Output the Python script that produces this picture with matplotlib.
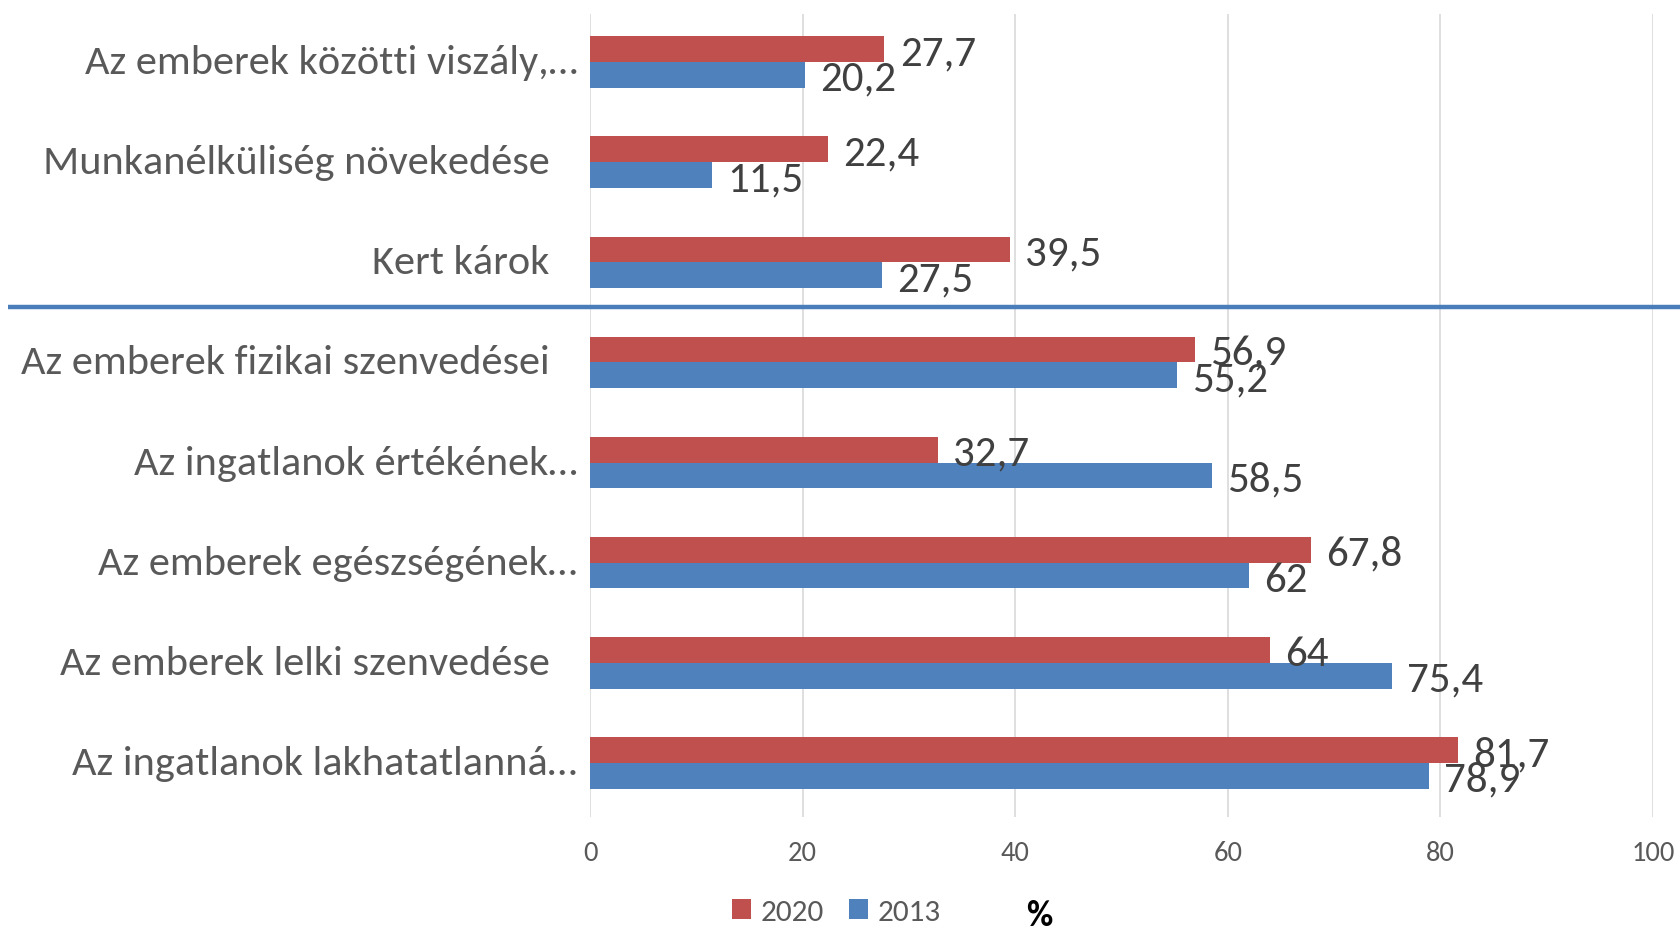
import numpy as np
import matplotlib
matplotlib.use("Agg")
import matplotlib.pyplot as plt
from matplotlib import font_manager
from matplotlib.lines import Line2D
from matplotlib.patches import Patch
from matplotlib.transforms import blended_transform_factory

# ---- data ----
categories = [
    "Az emberek közötti viszály,…",
    "Munkanélküliség növekedése",
    "Kert károk",
    "Az emberek fizikai szenvedései",
    "Az ingatlanok értékének…",
    "Az emberek egészségének…",
    "Az emberek lelki szenvedése",
    "Az ingatlanok lakhatatlanná…",
]
values_2020 = [27.7, 22.4, 39.5, 56.9, 32.7, 67.8, 64, 81.7]
values_2013 = [20.2, 11.5, 27.5, 55.2, 58.5, 62, 75.4, 78.9]
series_names = ["2020", "2013"]
x_ticks = [0, 20, 40, 60, 80, 100]
unit_label = "%"

# ---- fonts ----
available = {f.name for f in font_manager.fontManager.ttflist}
family = next((f for f in ["Carlito", "Liberation Sans", "Arial", "DejaVu Sans"] if f in available), "DejaVu Sans")
plt.rcParams["font.family"] = [family, "DejaVu Sans"]

RED = "#C0504D"
BLUE = "#4F81BD"
GRID = "#D9D9D9"
TXT = "#595959"
LBL = "#404040"

W, H = 1680, 929
fig = plt.figure(figsize=(W / 100, H / 100), dpi=100)
ax = fig.add_axes([590 / W, 1 - 817.5 / H, (1653 - 590) / W, (817.5 - 15) / H])

h = 0.257
y = np.arange(len(categories))
ax.barh(y - h / 2, values_2020, height=h, color=RED, edgecolor="none", zorder=3)
ax.barh(y + h / 2, values_2013, height=h, color=BLUE, edgecolor="none", zorder=3)

ax.set_xlim(0, 100)
ax.set_ylim(7.535, -0.48)
ax.set_xticks(x_ticks)
ax.set_xticklabels([str(t) for t in x_ticks])
ax.set_yticks([])
ax.tick_params(axis="x", length=0, pad=17, labelsize=20.5, labelcolor=TXT)
for s in ax.spines.values():
    s.set_visible(False)
ax.grid(axis="x", color=GRID, lw=1.2, zorder=0)
ax.set_axisbelow(True)


def fmt(v):
    return f"{v:g}".replace(".", ",")


for yy, v in zip(y - h / 2, values_2020):
    ax.annotate(fmt(v), xy=(v, yy), xytext=(11, 0), textcoords="offset points",
                va="center_baseline", ha="left", fontsize=31, color=LBL, zorder=4)
for yy, v in zip(y + h / 2, values_2013):
    ax.annotate(fmt(v), xy=(v, yy), xytext=(11, 0), textcoords="offset points",
                va="center_baseline", ha="left", fontsize=31, color=LBL, zorder=4)

# category labels
for yy, lab in zip(y, categories):
    off = -9 if lab.endswith("…") else -29
    ax.annotate(lab, xy=(0, yy), xytext=(off, 2.5), textcoords="offset points",
                va="center_baseline", ha="right", fontsize=30.5, color=TXT,
                annotation_clip=False)

# separator line between groups
tr = blended_transform_factory(fig.transFigure, ax.transData)
fig.add_artist(Line2D([8 / W, 1.0], [2.45, 2.45], transform=tr,
                      color="#4A7EBB", lw=3.2, solid_capstyle="butt"))

# legend
handles = [Patch(facecolor=RED, edgecolor="none"), Patch(facecolor=BLUE, edgecolor="none")]
leg = fig.legend(handles, series_names, loc="center", bbox_to_anchor=(836 / W, 1 - 913 / H),
                 ncol=2, frameon=False, fontsize=22.5, handlelength=0.62, handleheight=0.62,
                 handletextpad=0.3, columnspacing=0.8, borderpad=0, borderaxespad=0)
for t in leg.get_texts():
    t.set_color(TXT)
fig.text(1039 / W, 1 - 913 / H, unit_label, ha="center", va="center_baseline",
         fontsize=26, fontweight="bold", color="black")

fig.savefig("out.png", dpi=100, facecolor="white")
